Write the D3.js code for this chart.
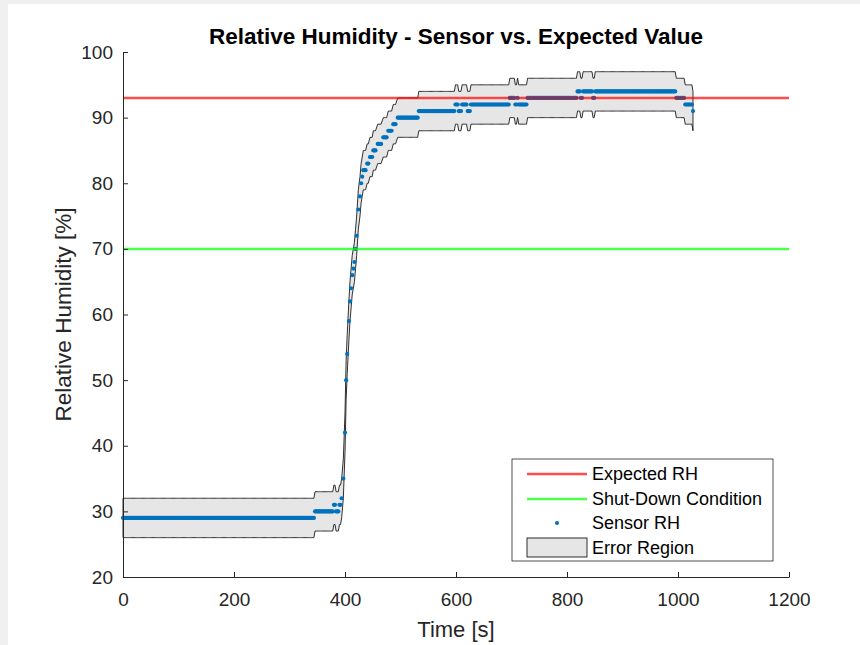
<!DOCTYPE html>
<html lang="en">
<head>
    <meta charset="UTF-8">
    <title>Relative Humidity - Sensor vs. Expected Value</title>
    <script src="https://d3js.org/d3.v7.min.js"></script>
    <style>
        body { margin: 0; background: #f0f0f0; }
        text { font-family: "Liberation Sans", Arial, Helvetica, sans-serif; }
    </style>
</head>
<body>
    <svg id="chart" width="860" height="645"></svg>

    <script>
        // Tick values
        var xTicks = [0, 200, 400, 600, 800, 1000, 1200];
        var yTicks = [20, 30, 40, 50, 60, 70, 80, 90, 100];

        // Reference levels [%]
        var expectedRH = 93;
        var shutDownRH = 70;
        var errorBand = 3;

        // Sensor readings as runs of equal value: start [s], end [s], RH [%]
        var sampleStep = 2;
        var runStart = [0, 346, 380, 384, 390, 394, 397, 400, 402, 404, 407, 409, 411, 413, 415, 417, 419, 421, 424, 427, 429, 431, 433, 440, 445, 451, 459, 469, 478, 487, 495, 533, 599, 605, 611, 621, 627, 697, 707, 711, 713, 729, 819, 825, 829, 847, 851, 997, 1013, 1027];
        var runEnd   = [344, 378, 382, 388, 392, 394, 397, 400, 402, 404, 407, 409, 411, 413, 415, 417, 419, 421, 424, 427, 429, 431, 437, 443, 449, 455, 465, 475, 484, 491, 531, 597, 603, 609, 619, 625, 695, 705, 709, 711, 727, 817, 823, 827, 845, 849, 995, 1011, 1025, 1027];
        var runValue = [29, 30, 31, 30, 31, 32, 35, 42, 50, 54, 59, 62, 64, 66, 67, 68, 70, 72, 76, 78, 80, 81, 82, 83, 84, 85, 86, 87, 88, 89, 90, 91, 92, 91, 92, 91, 92, 93, 92, 93, 92, 93, 94, 93, 94, 93, 94, 93, 92, 91];

        // Expand the runs into the logged samples
        var samples = [];
        runStart.forEach(function(s, i) {
            for (var t = s; t <= runEnd[i]; t += sampleStep) {
                samples.push({ t: t, v: runValue[i] });
            }
        });

        var svg = d3.select("#chart");

        // Figure background
        svg.append("rect").attr("width", 860).attr("height", 645).attr("fill", "#f0f0f0");
        svg.append("rect").attr("x", 8).attr("y", 4).attr("width", 852).attr("height", 641).attr("fill", "#fff");

        var x = d3.scaleLinear().domain([0, 1200]).range([123, 789]);
        var y = d3.scaleLinear().domain([20, 100]).range([577, 52]);

        // Error region (sensor +/- band)
        var area = d3.area()
            .x(function(d) { return x(d.t); })
            .y0(function(d) { return y(d.v - errorBand); })
            .y1(function(d) { return y(d.v + errorBand); });

        svg.append("path")
           .datum(samples)
           .attr("d", area)
           .attr("fill", "#e6e6e6")
           .attr("stroke", "#1a1a1a")
           .attr("stroke-width", 0.9)
           .attr("stroke-linejoin", "round");

        // Sensor dots
        svg.append("g")
           .selectAll("circle")
           .data(samples)
           .enter().append("circle")
           .attr("cx", function(d) { return x(d.t); })
           .attr("cy", function(d) { return y(d.v); })
           .attr("r", 2.1)
           .attr("fill", "#0072bd");

        // Shut-down and expected lines
        svg.append("line")
           .attr("x1", x(0)).attr("x2", x(1200))
           .attr("y1", y(shutDownRH)).attr("y2", y(shutDownRH))
           .attr("stroke", "#00ff00").attr("stroke-opacity", 0.7).attr("stroke-width", 2.5);

        svg.append("line")
           .attr("x1", x(0)).attr("x2", x(1200))
           .attr("y1", y(expectedRH)).attr("y2", y(expectedRH))
           .attr("stroke", "#ff0000").attr("stroke-opacity", 0.7).attr("stroke-width", 2.5);

        // Axes
        var xAxis = svg.append("g")
           .attr("transform", "translate(0," + y(20) + ")")
           .call(d3.axisBottom(x).tickValues(xTicks).tickFormat(d3.format("d"))
                   .tickSize(-5).tickSizeOuter(0).tickPadding(16));

        var yAxis = svg.append("g")
           .attr("transform", "translate(" + x(0) + ",0)")
           .call(d3.axisLeft(y).tickValues(yTicks).tickFormat(d3.format("d"))
                   .tickSize(-5).tickSizeOuter(0).tickPadding(10));

        [xAxis, yAxis].forEach(function(g) {
            g.select(".domain").attr("stroke", "#262626");
            g.selectAll(".tick line").attr("stroke", "#262626");
            g.selectAll(".tick text")
             .attr("fill", "#262626")
             .style("font-size", "19px")
             .style("font-family", "'Liberation Sans', Arial, sans-serif");
        });

        // Title and axis labels
        svg.append("text")
           .attr("x", 456).attr("y", 44)
           .attr("text-anchor", "middle")
           .style("font-size", "22.5px").style("font-weight", "bold")
           .text("Relative Humidity - Sensor vs. Expected Value");

        svg.append("text")
           .attr("x", 456).attr("y", 637)
           .attr("text-anchor", "middle")
           .attr("fill", "#262626")
           .style("font-size", "22px")
           .text("Time [s]");

        svg.append("text")
           .attr("transform", "translate(71," + ((y(20) + y(100)) / 2) + ") rotate(-90)")
           .attr("text-anchor", "middle")
           .attr("fill", "#262626")
           .style("font-size", "22.5px")
           .text("Relative Humidity [%]");

        // Legend
        var legend = svg.append("g").attr("transform", "translate(512,459)");

        legend.append("rect")
              .attr("width", 261).attr("height", 102)
              .attr("fill", "#fff").attr("stroke", "#262626").attr("stroke-width", 0.8);

        var legendItems = ["Expected RH", "Shut-Down Condition", "Sensor RH", "Error Region"];
        var rowY = [15, 40, 64, 89];

        legend.append("line").attr("x1", 15).attr("x2", 75).attr("y1", rowY[0]).attr("y2", rowY[0])
              .attr("stroke", "#ff0000").attr("stroke-opacity", 0.7).attr("stroke-width", 2.5);
        legend.append("line").attr("x1", 15).attr("x2", 75).attr("y1", rowY[1]).attr("y2", rowY[1])
              .attr("stroke", "#00ff00").attr("stroke-opacity", 0.7).attr("stroke-width", 2.5);
        legend.append("circle").attr("cx", 45).attr("cy", rowY[2]).attr("r", 2.1).attr("fill", "#0072bd");
        legend.append("rect").attr("x", 15).attr("y", rowY[3] - 10).attr("width", 60).attr("height", 19)
              .attr("fill", "#e6e6e6").attr("stroke", "#1a1a1a").attr("stroke-width", 0.9);

        legend.selectAll(".label")
              .data(legendItems)
              .enter().append("text")
              .attr("class", "label")
              .attr("x", 80)
              .attr("y", function(d, i) { return rowY[i]; })
              .attr("dy", "0.35em")
              .style("font-size", "18px")
              .text(function(d) { return d; });
    </script>
</body>
</html>
